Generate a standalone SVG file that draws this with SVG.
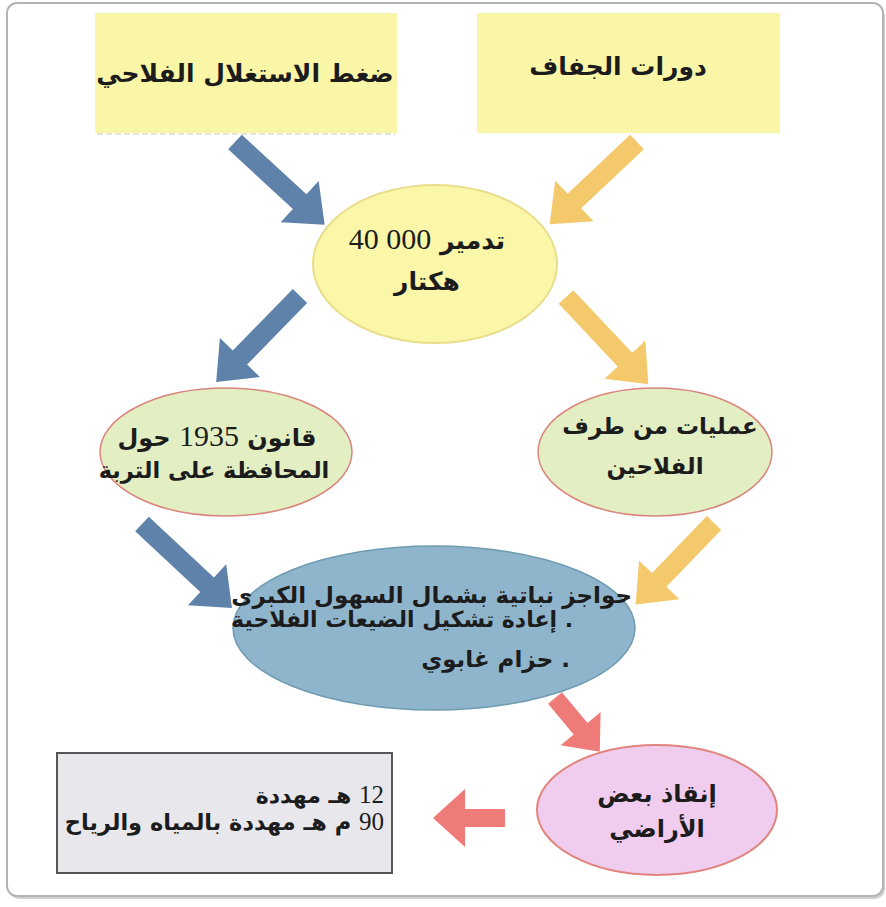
<svg xmlns="http://www.w3.org/2000/svg" width="886" height="907" viewBox="0 0 886 907">
<style>
.ar{font-family:"DejaVu Sans","Liberation Sans",sans-serif;font-weight:bold;fill:#1c1c1c;}
.num{font-family:"Liberation Serif","DejaVu Serif",serif;font-weight:normal;}
.box{fill:#faf6a8;}
.blue{fill:#5e82aa;}
.yel{fill:#f4c96c;}
.red{fill:#ee7b78;}
.green{fill:#e3efc3;stroke:#d9857c;stroke-width:1.5;}
</style>
<rect x="9" y="6" width="876" height="893" rx="10" fill="#d0d0d4"/>
<rect x="7" y="3" width="876" height="893" rx="10" fill="#ffffff" stroke="#b3b3b8" stroke-width="2"/>
<g id="connectors">
<path class="blue" transform="translate(235,142) rotate(42.7)" d="M0,-10 L88,-10 L88,-28 L122,0 L88,28 L88,10 L0,10 Z"/>
<path class="yel" transform="translate(637,142) rotate(136.7)" d="M0,-10 L86,-10 L86,-28 L120,0 L86,28 L86,10 L0,10 Z"/>
<path class="blue" transform="translate(300,296) rotate(134.3)" d="M0,-10 L86,-10 L86,-28 L120,0 L86,28 L86,10 L0,10 Z"/>
<path class="yel" transform="translate(566,297) rotate(46.7)" d="M0,-10 L86,-10 L86,-28 L120,0 L86,28 L86,10 L0,10 Z"/>
<path class="blue" transform="translate(142,524) rotate(43)" d="M0,-10 L89,-10 L89,-28 L123,0 L89,28 L89,10 L0,10 Z"/>
<path class="yel" transform="translate(714,523) rotate(133.9)" d="M0,-10 L79,-10 L79,-28 L113,0 L79,28 L79,10 L0,10 Z"/>
<path class="red" transform="translate(555,698) rotate(50.2)" d="M0,-9 L40,-9 L40,-26 L70,0 L40,26 L40,9 L0,9 Z"/>
<path class="red" transform="translate(505,818) rotate(180)" d="M0,-9 L40,-9 L40,-29 L72,0 L40,29 L40,9 L0,9 Z"/>
</g>
<g id="box-pressure">
<rect class="box" x="95" y="13" width="302" height="120"/>
<line x1="97" y1="134" x2="395" y2="134" stroke="#dcdcd6" stroke-width="1.5" stroke-dasharray="6 3"/>
<text class="ar" x="245" y="82" font-size="25" text-anchor="middle" direction="rtl">ضغط الاستغلال الفلاحي</text>
</g>
<g id="box-drought">
<rect class="box" x="477" y="13" width="303" height="120"/>
<text class="ar" x="618" y="75" font-size="25" text-anchor="middle" direction="rtl">دورات الجفاف</text>
</g>
<g id="node-destruction">
<ellipse cx="435" cy="264" rx="122" ry="79" fill="#fbf7a9" stroke="#e8de8c" stroke-width="2"/>
<text class="ar" x="427" y="249" font-size="25" text-anchor="middle" direction="rtl">تدمير <tspan class="num" font-size="30">40&#160;000</tspan></text>
<text class="ar" x="427" y="290" font-size="25" text-anchor="middle" direction="rtl">هكتار</text>
</g>
<g id="node-law">
<ellipse class="green" cx="226" cy="452" rx="126" ry="64"/>
<text class="ar" x="217" y="446" font-size="24" text-anchor="middle" direction="rtl">قانون <tspan class="num" font-size="30">1935</tspan> حول</text>
<text class="ar" x="214" y="478" font-size="22.5" text-anchor="middle" direction="rtl">المحافظة على التربة</text>
</g>
<g id="node-farmers">
<ellipse class="green" cx="655" cy="452" rx="117" ry="64"/>
<text class="ar" x="660" y="434" font-size="23" text-anchor="middle" direction="rtl">عمليات من طرف</text>
<text class="ar" x="655" y="474" font-size="23" text-anchor="middle" direction="rtl">الفلاحين</text>
</g>
<g id="node-measures">
<ellipse cx="434" cy="628" rx="201" ry="82" fill="#8fb5cc" stroke="#6f9bb0" stroke-width="1.5"/>
<text class="ar" x="632" y="603" font-size="23" text-anchor="start" direction="rtl">حواجز نباتية بشمال السهول الكبرى</text>
<text class="ar" x="573" y="627" font-size="22" text-anchor="start" direction="rtl">. إعادة تشكيل الضيعات الفلاحية</text>
<text class="ar" x="570" y="667" font-size="23" text-anchor="start" direction="rtl">. حزام غابوي</text>
</g>
<g id="node-saving">
<ellipse cx="657" cy="810" rx="120" ry="65" fill="#f0cdef" stroke="#e0857e" stroke-width="2"/>
<text class="ar" x="657" y="802" font-size="24" text-anchor="middle" direction="rtl">إنقاذ بعض</text>
<text class="ar" x="657" y="837" font-size="24" text-anchor="middle" direction="rtl">الأراضي</text>
</g>
<g id="box-threatened">
<rect x="57" y="753" width="335" height="120" fill="#e7e7ec" stroke="#555" stroke-width="2"/>
<text class="ar" x="384" y="803" font-size="22" text-anchor="start" direction="rtl"><tspan class="num" font-size="25">12</tspan> هـ مهددة</text>
<text class="ar" x="384" y="830" font-size="22.5" text-anchor="start" direction="rtl"><tspan class="num" font-size="25">90</tspan> م هـ مهددة بالمياه والرياح</text>
</g>
</svg>
